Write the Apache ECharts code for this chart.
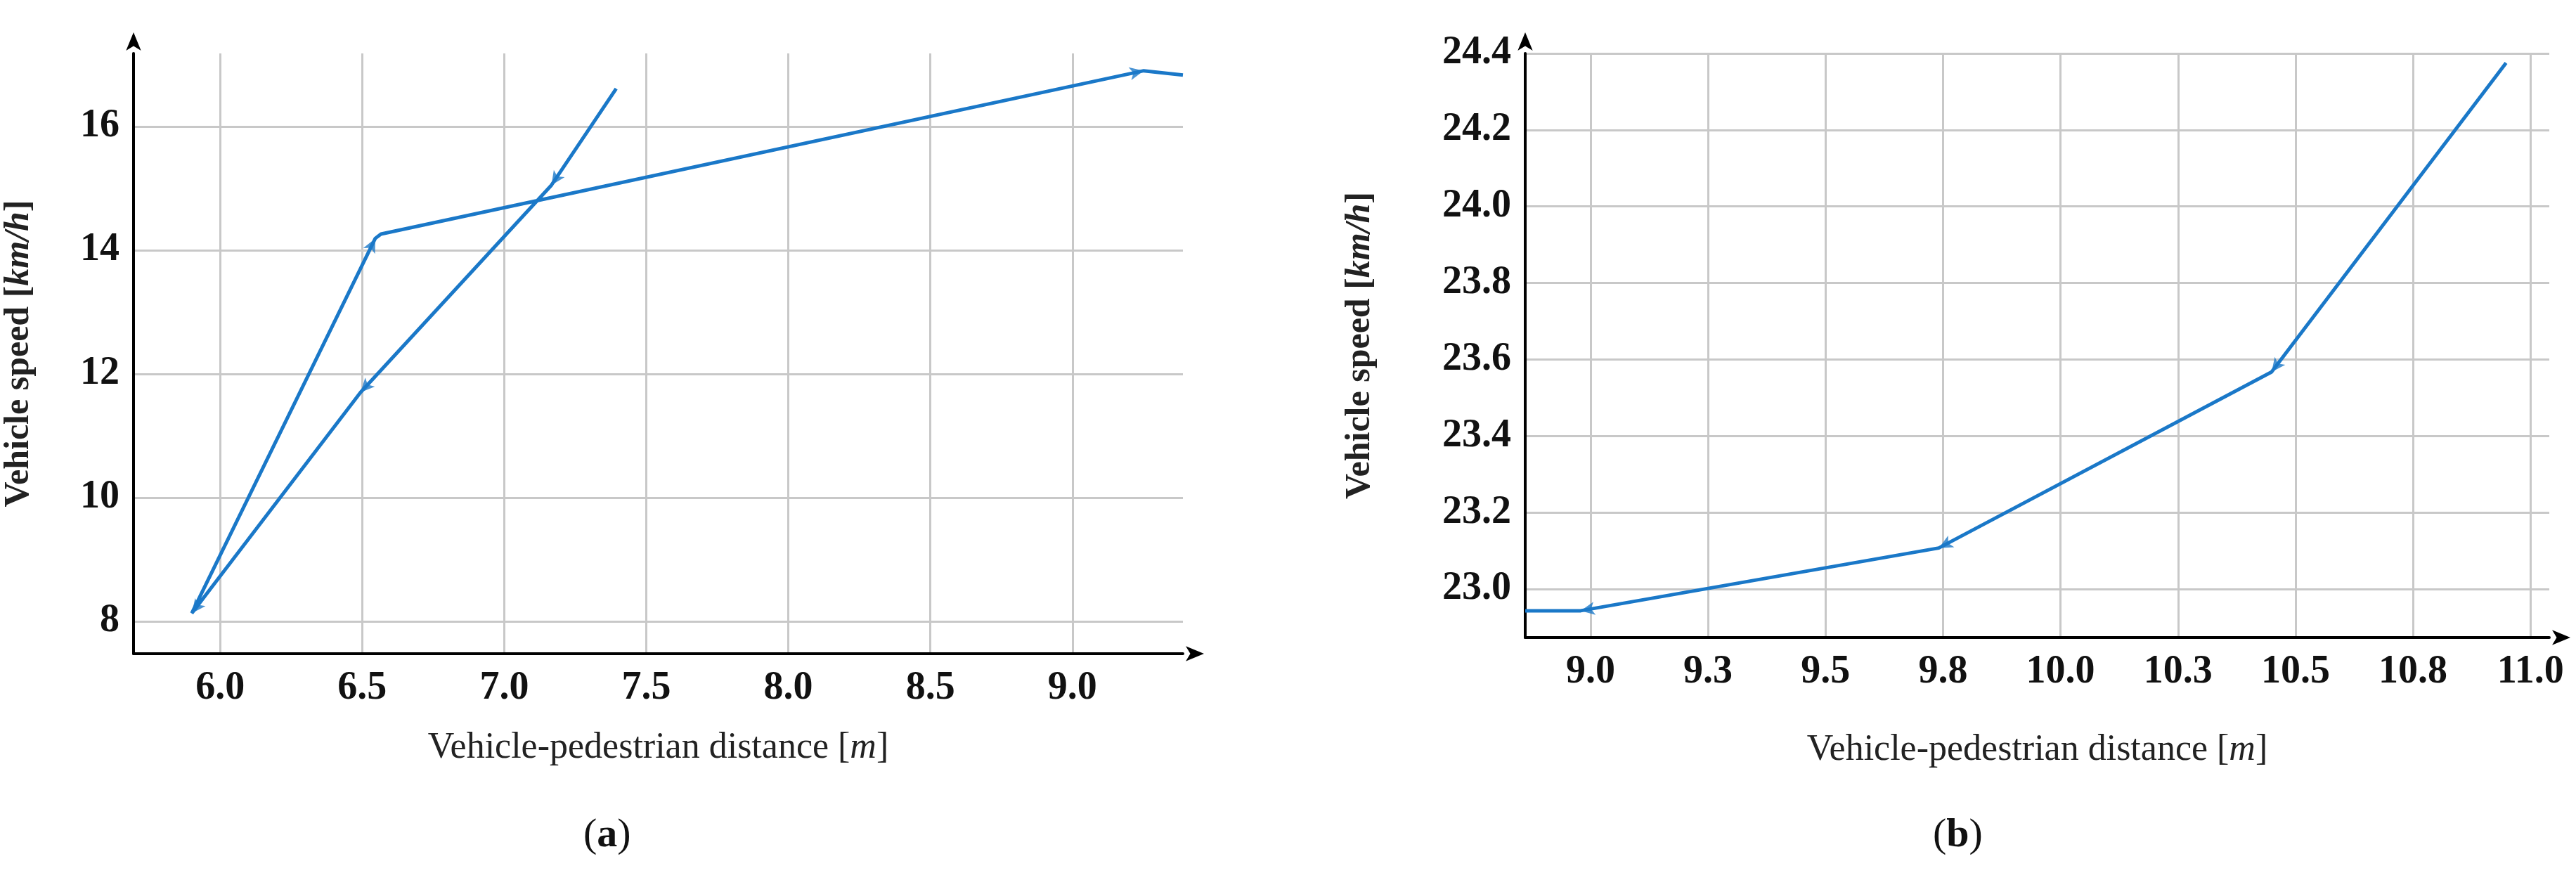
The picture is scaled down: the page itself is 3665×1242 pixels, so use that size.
<!DOCTYPE html>
<html>
<head>
<meta charset="utf-8">
<script src="https://cdn.jsdelivr.net/npm/echarts@6/dist/echarts.min.js"></script>
<style>html,body{margin:0;background:#fff}#main{width:3665px;height:1242px}</style>
</head>
<body>
<div id="main"></div>
<script>
// panel (a) path, in drawing order
var distA = [7.394, 7.166, 6.494, 5.900, 6.546, 6.566, 9.251, 9.389];
var speedA = [16.61, 15.05, 11.70, 8.13, 14.19, 14.26, 16.90, 16.83];
var arrowsA = [1, 2, 3, 4, 6];
// panel (b) path
var distB = [10.948, 10.449, 9.741, 8.979, 8.861];
var speedB = [24.375, 23.567, 23.107, 22.943, 22.943];
var arrowsB = [1, 2, 3];

var lineColor = '#1a78c8';
var font = '"Liberation Serif", serif';

function pairs(xs, ys) {
    var out = [];
    for (var i = 0; i < xs.length; i++) out.push([xs[i], ys[i]]);
    return out;
}

function xAxisCfg(idx, min, max, step, gap) {
    return {
        type: 'value', gridIndex: idx, min: min, max: max,
        minInterval: step, maxInterval: step,
        name: 'Vehicle-pedestrian distance [{i|m}]',
        nameLocation: 'middle', nameGap: gap,
        nameTextStyle: {fontFamily: font, fontSize: 52, color: '#222',
            rich: {i: {fontFamily: font, fontStyle: 'italic', fontSize: 52, color: '#222'}}},
        axisLine: {lineStyle: {color: '#000', width: 4}, symbol: ['none', 'arrow'], symbolSize: [16, 26], symbolOffset: [0, 30]},
        axisTick: {show: false},
        axisLabel: {fontFamily: font, fontWeight: 'bold', fontSize: 56, color: '#111', margin: 22,
            showMinLabel: false, showMaxLabel: false,
            formatter: function (v) { return v.toFixed(1); }},
        splitLine: {show: true, showMinLine: false, showMaxLine: false, lineStyle: {color: '#c8c8c8', width: 3}}
    };
}

function yAxisCfg(idx, min, max, step, gap, dec, topLine) {
    return {
        type: 'value', gridIndex: idx, min: min, max: max,
        minInterval: step, maxInterval: step,
        name: 'Vehicle speed [{i|km/h}]',
        nameLocation: 'middle', nameGap: gap,
        nameTextStyle: {fontFamily: font, fontWeight: 'bold', fontSize: 50, color: '#222',
            rich: {i: {fontFamily: font, fontStyle: 'italic', fontWeight: 'bold', fontSize: 50, color: '#222'}}},
        axisLine: {lineStyle: {color: '#000', width: 4}, symbol: ['none', 'arrow'], symbolSize: [16, 26], symbolOffset: [0, 30]},
        axisTick: {show: false},
        axisLabel: {fontFamily: font, fontWeight: 'bold', fontSize: 56, color: '#111', margin: 20,
            showMinLabel: false, showMaxLabel: topLine,
            formatter: function (v) { return v.toFixed(dec); }},
        splitLine: {show: true, showMinLine: false, showMaxLine: topLine, lineStyle: {color: '#c8c8c8', width: 3}}
    };
}

var chart = echarts.init(document.getElementById('main'));
chart.setOption({
    backgroundColor: '#fff',
    animation: false,
    grid: [
        {left: 190, right: 1982, top: 76, bottom: 312},
        {left: 2170, right: 38, top: 76, bottom: 335}
    ],
    xAxis: [xAxisCfg(0, 5.695, 9.389, 0.5, 108), xAxisCfg(1, 8.861, 11.04, 0.25, 134)],
    yAxis: [yAxisCfg(0, 7.476, 17.18, 2, 138, 0, false), yAxisCfg(1, 22.873, 24.4, 0.2, 210, 1, true)],
    series: [
        {type: 'line', xAxisIndex: 0, yAxisIndex: 0, data: pairs(distA, speedA), showSymbol: false,
            lineStyle: {color: lineColor, width: 5}},
        {type: 'line', xAxisIndex: 1, yAxisIndex: 1, data: pairs(distB, speedB), showSymbol: false,
            lineStyle: {color: lineColor, width: 5}}
    ],
    graphic: [
        {type: 'text', left: 830, top: 1160, style: {text: '({b|a})', font: '58px ' + font, fill: '#111',
            rich: {b: {fontFamily: font, fontWeight: 'bold', fontSize: 58, fill: '#111'}}}},
        {type: 'text', left: 2750, top: 1160, style: {text: '({b|b})', font: '58px ' + font, fill: '#111',
            rich: {b: {fontFamily: font, fontWeight: 'bold', fontSize: 58, fill: '#111'}}}}
    ]
});

// arrowheads pointing along the path, rotated in pixel space
function arrowSeries(idx, xs, ys, list) {
    var data = [];
    list.forEach(function (i) {
        var a = chart.convertToPixel({gridIndex: idx}, [xs[i - 1], ys[i - 1]]);
        var b = chart.convertToPixel({gridIndex: idx}, [xs[i], ys[i]]);
        var rot = Math.atan2(-(b[0] - a[0]), -(b[1] - a[1])) * 180 / Math.PI;
        data.push({value: [xs[i], ys[i]], symbolRotate: rot});
    });
    return {type: 'scatter', xAxisIndex: idx, yAxisIndex: idx, data: data,
        symbol: 'arrow', symbolSize: [14, 20], itemStyle: {color: lineColor}};
}

chart.setOption({
    series: [
        {}, {},
        arrowSeries(0, distA, speedA, arrowsA),
        arrowSeries(1, distB, speedB, arrowsB)
    ]
});
</script>
</body>
</html>
